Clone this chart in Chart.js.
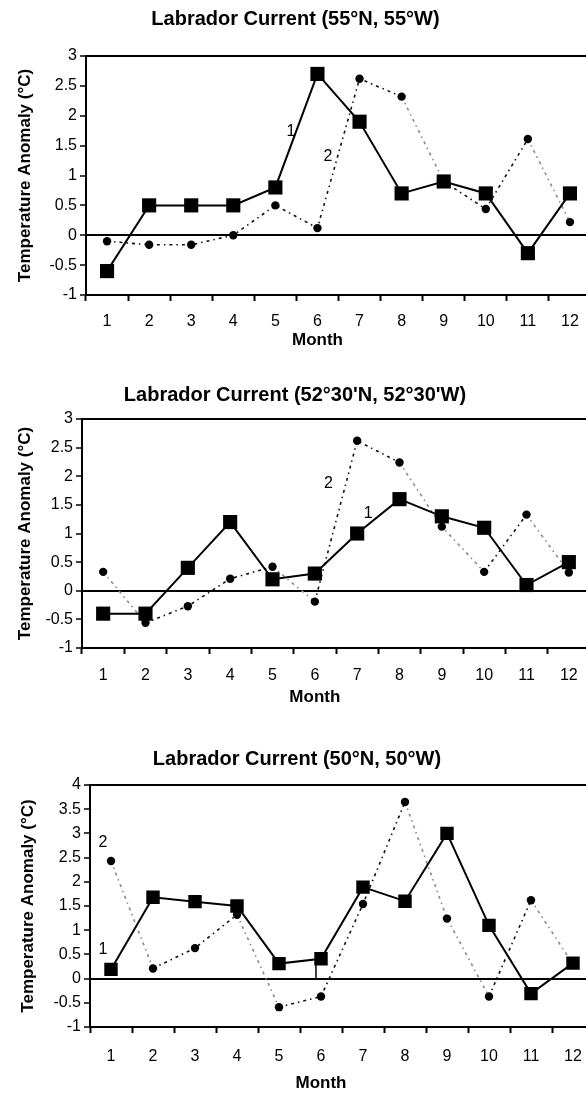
<!DOCTYPE html>
<html><head><meta charset="utf-8">
<script src="https://cdn.jsdelivr.net/npm/chart.js@4.4.1/dist/chart.umd.min.js"></script>
<style>
html,body{margin:0;padding:0;background:#fff;overflow:hidden;width:586px;height:1097px;}
.box{position:absolute;left:0;}
canvas{display:block;}
</style></head><body>
<div class="box" style="top:0"><canvas id="c1" width="680" height="370"></canvas></div>
<div class="box" style="top:370px"><canvas id="c2" width="616" height="360"></canvas></div>
<div class="box" style="top:730px"><canvas id="c3" width="664" height="367"></canvas></div>
<script>
// ---- data ----
const months = ['1','2','3','4','5','6','7','8','9','10','11','12'];
const title1 = 'Labrador Current (55°N, 55°W)';
const title2 = "Labrador Current (52°30'N, 52°30'W)";
const title3 = 'Labrador Current (50°N, 50°W)';
const yTitle = 'Temperature Anomaly (°C)';
const xTitle = 'Month';
const series1Name = '1';
const series2Name = '2';
// chart 1 (55N 55W)
const c1Series1 = [-0.6, 0.5, 0.5, 0.5, 0.8, 2.7, 1.9, 0.7, 0.9, 0.7, -0.3, 0.7];
const c1Series2 = [-0.1, -0.16, -0.16, 0.0, 0.5, 0.12, 2.62, 2.32, 0.9, 0.44, 1.61, 0.22];
// chart 2 (52°30'N 52°30'W)
const c2Series1 = [-0.4, -0.4, 0.4, 1.2, 0.2, 0.3, 1.0, 1.6, 1.3, 1.1, 0.1, 0.5];
const c2Series2 = [0.33, -0.56, -0.27, 0.21, 0.42, -0.19, 2.62, 2.24, 1.12, 0.33, 1.33, 0.32];
// chart 3 (50N 50W)
const c3Series1 = [0.19, 1.68, 1.59, 1.5, 0.31, 0.41, 1.89, 1.6, 3.0, 1.1, -0.31, 0.32];
const c3Series2 = [2.43, 0.21, 0.63, 1.32, -0.59, -0.37, 1.54, 3.65, 1.24, -0.37, 1.62, 0.3];
// y ranges
const c1Range = [-1, 3];
const c2Range = [-1, 3];
const c3Range = [-1, 4];

const FONT = '"Liberation Sans", Arial, Helvetica, sans-serif';
Chart.defaults.font.family = FONT;
Chart.defaults.color = '#000';

const framePlugin = {
  id: 'frame',
  beforeDatasetsDraw(chart) {
    const {ctx, chartArea: a} = chart;
    ctx.save();
    ctx.strokeStyle = '#000';
    ctx.lineWidth = 2;
    ctx.strokeRect(a.left, a.top, a.right - a.left, a.bottom - a.top);
    ctx.restore();
  }
};

const extrasPlugin = {
  id: 'extras',
  afterDraw(chart, args, opts) {
    const {ctx} = chart;
    const xs = chart.scales.x, ys = chart.scales.y;
    ctx.save();
    ctx.fillStyle = '#000';
    // axis title "Month" centered under category 6
    ctx.font = 'bold 17px ' + FONT;
    ctx.textAlign = 'center';
    ctx.textBaseline = 'middle';
    ctx.fillText(xTitle, xs.getPixelForValue(opts.monthAt), opts.monthY);
    // series tags
    ctx.font = '16px ' + FONT;
    (opts.tags || []).forEach(t => {
      ctx.fillText(t.text, xs.getPixelForValue(t.x), ys.getPixelForValue(t.y));
    });
    (opts.strokes || []).forEach(s => {
      ctx.strokeStyle = '#000';
      ctx.lineWidth = 1.5;
      ctx.beginPath();
      ctx.moveTo(xs.getPixelForValue(s.x0), ys.getPixelForValue(s.y0));
      ctx.lineTo(xs.getPixelForValue(s.x1), ys.getPixelForValue(s.y1));
      ctx.stroke();
    });
    ctx.restore();
  }
};

function makeChart(id, s1, s2, range, title, L) {
  return new Chart(document.getElementById(id), {
    type: 'line',
    data: {
      labels: months,
      datasets: [
        {
          label: series1Name, data: s1,
          borderColor: '#000', borderWidth: 2, tension: 0,
          pointStyle: 'rect', pointRadius: L.sq, pointBackgroundColor: '#000',
          pointBorderWidth: 0, pointHoverRadius: L.sq
        },
        {
          label: series2Name, data: s2,
          borderColor: '#111', borderWidth: 1.6, tension: 0,
          borderDash: [3, 4, 1.5, 4],
          segment: {
            borderColor: c => (c.p0.parsed.y - c.p1.parsed.y > 0.55 ? '#8a8a8a' : '#111')
          },
          pointStyle: 'circle', pointRadius: 4.2, pointBackgroundColor: '#000',
          pointBorderWidth: 0, pointHoverRadius: 4.2
        }
      ]
    },
    options: {
      responsive: false, animation: false,
      layout: {padding: {left: 0, right: L.padRight, top: 0, bottom: 0}},
      plugins: {
        legend: {display: false},
        tooltip: {enabled: false},
        title: {
          display: true, text: title, color: '#000',
          font: {size: 20, weight: 'bold', family: FONT},
          padding: {top: L.tTop, bottom: L.tBottom}
        },
        extras: {monthAt: 5, monthY: L.monthY, tags: L.tags, strokes: L.strokes || []}
      },
      scales: {
        x: {
          offset: true,
          grid: {offset: true, drawOnChartArea: false, drawTicks: true, tickLength: 6, tickColor: '#000', tickWidth: 2, color: '#000'},
          border: {display: true, color: '#000', width: 2},
          ticks: {font: {size: 16, family: FONT}, color: '#000', padding: L.xPad, maxRotation: 0, autoSkip: false},
          afterFit(sc) { sc.height = L.xH; }
        },
        y: {
          min: range[0], max: range[1],
          grid: {
            drawTicks: true, tickLength: 6, tickColor: '#000', tickWidth: 1.5,
            color: c => (c.tick && c.tick.value === 0 ? '#000' : 'rgba(0,0,0,0)'),
            lineWidth: 2
          },
          border: {display: true, color: '#000', width: 2},
          ticks: {
            stepSize: 0.5, font: {size: 16, family: FONT}, color: '#000', padding: 3,
            callback: v => String(Math.round(v * 10) / 10)
          },
          title: {display: true, text: yTitle, color: '#000', font: {size: 17, weight: 'bold', family: FONT}, padding: {top: L.yTitlePad, bottom: 0}},
          afterFit(sc) { sc.width = L.yW; }
        }
      }
    },
    plugins: [framePlugin, extrasPlugin]
  });
}

makeChart('c1', c1Series1, c1Series2, c1Range, title1, {
  sq: 10, padRight: 89, tTop: 7, tBottom: 25, xH: 75, xPad: 11, yW: 86, yTitlePad: 15, monthY: 340,
  tags: [{text: series1Name, x: 4.37, y: 1.74}, {text: series2Name, x: 5.25, y: 1.32}]
});
makeChart('c2', c2Series1, c2Series2, c2Range, title2, {
  sq: 10, padRight: 26, tTop: 13, tBottom: 12, xH: 82, xPad: 12, yW: 82, yTitlePad: 15, monthY: 327,
  tags: [{text: series2Name, x: 5.32, y: 1.87}, {text: series1Name, x: 6.26, y: 1.34}]
});
makeChart('c3', c3Series1, c3Series2, c3Range, title3, {
  sq: 9.5, padRight: 70, tTop: 17, tBottom: 14, xH: 70, xPad: 14, yW: 90, yTitlePad: 18, monthY: 353,
  tags: [{text: series2Name, x: -0.19, y: 2.82}, {text: series1Name, x: -0.19, y: 0.6}],
  strokes: [{x0: 4.88, y0: 0, x1: 4.88, y1: 0.42}]
});
</script>
</body></html>
